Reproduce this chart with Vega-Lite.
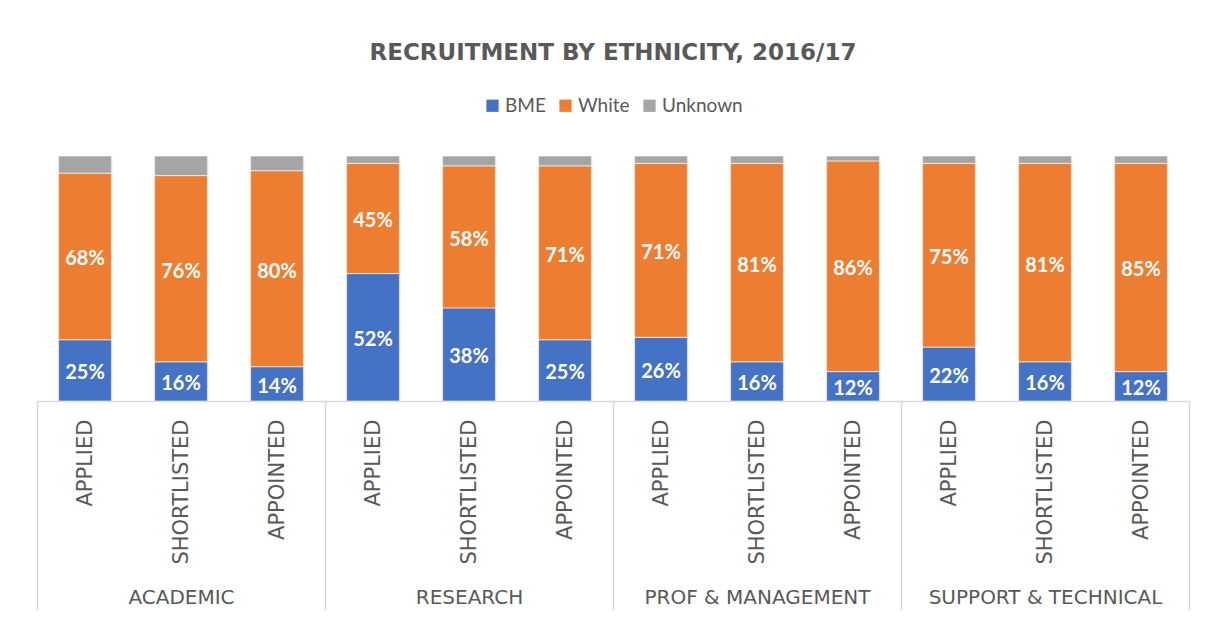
{
  "$schema": "https://vega.github.io/schema/vega-lite/v6.json",
  "autosize": "none",
  "width": 1152,
  "height": 245,
  "padding": {"left": 37, "top": 156, "right": 17, "bottom": 218},
  "background": "white",
  "title": {
    "text": "RECRUITMENT BY ETHNICITY, 2016/17",
    "font": "DejaVu Sans",
    "fontSize": 23,
    "fontWeight": "bold",
    "color": "#595959",
    "anchor": "middle",
    "offset": 31
  },
  "data": {
    "values": [
      {"group": "ACADEMIC", "stage": "APPLIED", "eth": "BME", "v": 25},
      {"group": "ACADEMIC", "stage": "APPLIED", "eth": "White", "v": 68},
      {"group": "ACADEMIC", "stage": "APPLIED", "eth": "Unknown", "v": 7},
      {"group": "ACADEMIC", "stage": "SHORTLISTED", "eth": "BME", "v": 16},
      {"group": "ACADEMIC", "stage": "SHORTLISTED", "eth": "White", "v": 76},
      {"group": "ACADEMIC", "stage": "SHORTLISTED", "eth": "Unknown", "v": 8},
      {"group": "ACADEMIC", "stage": "APPOINTED", "eth": "BME", "v": 14},
      {"group": "ACADEMIC", "stage": "APPOINTED", "eth": "White", "v": 80},
      {"group": "ACADEMIC", "stage": "APPOINTED", "eth": "Unknown", "v": 6},
      {"group": "RESEARCH", "stage": "APPLIED", "eth": "BME", "v": 52},
      {"group": "RESEARCH", "stage": "APPLIED", "eth": "White", "v": 45},
      {"group": "RESEARCH", "stage": "APPLIED", "eth": "Unknown", "v": 3},
      {"group": "RESEARCH", "stage": "SHORTLISTED", "eth": "BME", "v": 38},
      {"group": "RESEARCH", "stage": "SHORTLISTED", "eth": "White", "v": 58},
      {"group": "RESEARCH", "stage": "SHORTLISTED", "eth": "Unknown", "v": 4},
      {"group": "RESEARCH", "stage": "APPOINTED", "eth": "BME", "v": 25},
      {"group": "RESEARCH", "stage": "APPOINTED", "eth": "White", "v": 71},
      {"group": "RESEARCH", "stage": "APPOINTED", "eth": "Unknown", "v": 4},
      {"group": "PROF & MANAGEMENT", "stage": "APPLIED", "eth": "BME", "v": 26},
      {"group": "PROF & MANAGEMENT", "stage": "APPLIED", "eth": "White", "v": 71},
      {"group": "PROF & MANAGEMENT", "stage": "APPLIED", "eth": "Unknown", "v": 3},
      {"group": "PROF & MANAGEMENT", "stage": "SHORTLISTED", "eth": "BME", "v": 16},
      {"group": "PROF & MANAGEMENT", "stage": "SHORTLISTED", "eth": "White", "v": 81},
      {"group": "PROF & MANAGEMENT", "stage": "SHORTLISTED", "eth": "Unknown", "v": 3},
      {"group": "PROF & MANAGEMENT", "stage": "APPOINTED", "eth": "BME", "v": 12},
      {"group": "PROF & MANAGEMENT", "stage": "APPOINTED", "eth": "White", "v": 86},
      {"group": "PROF & MANAGEMENT", "stage": "APPOINTED", "eth": "Unknown", "v": 2},
      {"group": "SUPPORT & TECHNICAL", "stage": "APPLIED", "eth": "BME", "v": 22},
      {"group": "SUPPORT & TECHNICAL", "stage": "APPLIED", "eth": "White", "v": 75},
      {"group": "SUPPORT & TECHNICAL", "stage": "APPLIED", "eth": "Unknown", "v": 3},
      {"group": "SUPPORT & TECHNICAL", "stage": "SHORTLISTED", "eth": "BME", "v": 16},
      {"group": "SUPPORT & TECHNICAL", "stage": "SHORTLISTED", "eth": "White", "v": 81},
      {"group": "SUPPORT & TECHNICAL", "stage": "SHORTLISTED", "eth": "Unknown", "v": 3},
      {"group": "SUPPORT & TECHNICAL", "stage": "APPOINTED", "eth": "BME", "v": 12},
      {"group": "SUPPORT & TECHNICAL", "stage": "APPOINTED", "eth": "White", "v": 85},
      {"group": "SUPPORT & TECHNICAL", "stage": "APPOINTED", "eth": "Unknown", "v": 3}
    ]
  },
  "transform": [
    {"calculate": "datum.group + '|' + datum.stage", "as": "key"},
    {"calculate": "indexof(['BME','White','Unknown'], datum.eth)", "as": "o"},
    {"stack": "v", "groupby": ["key"], "offset": "normalize", "sort": [{"field": "o", "order": "ascending"}], "as": ["y0", "y1"]},
    {"calculate": "(datum.y0 + datum.y1) / 2", "as": "mid"},
    {"calculate": "datum.v + '%'", "as": "lbl"}
  ],
  "layer": [
    {
      "layer": [
        {
          "mark": {"type": "bar", "stroke": "white", "strokeWidth": 0.6},
          "encoding": {
            "x": {
              "field": "key", "type": "nominal", "sort": null,
              "scale": {"paddingInner": 0.45, "paddingOuter": 0.225},
              "axis": {
                "orient": "bottom",
                "title": null,
                "tickBand": "extent",
                "grid": true,
                "gridColor": "#d9d9d9",
                "gridWidth": 1.5,
                "ticks": false,
                "domain": true,
                "domainColor": "#d9d9d9",
                "domainWidth": 1.5,
                "labelExpr": "split(datum.label, '|')[1]",
                "labelAngle": -90,
                "labelAlign": "right",
                "labelBaseline": "middle",
                "labelPadding": 18,
                "labelFont": "DejaVu Sans",
                "labelFontSize": 21,
                "labelLimit": 300,
                "labelColor": "#595959"
              }
            },
            "y": {"field": "y0", "type": "quantitative", "scale": {"domain": [0, 1]}, "axis": null},
            "y2": {"field": "y1"},
            "color": {
              "field": "eth", "type": "nominal",
              "scale": {"domain": ["BME", "White", "Unknown"], "range": ["#4472C4", "#ED7D31", "#A5A5A5"]},
              "legend": {
                "title": null,
                "orient": "none",
                "direction": "horizontal",
                "legendX": 446,
                "legendY": -60,
                "symbolType": "square",
                "symbolSize": 150,
                "symbolStrokeWidth": 0,
                "labelFont": "Lato",
                "labelFontSize": 19,
                "labelColor": "#595959",
                "labelOffset": 3,
                "columnPadding": 10
              }
            }
          }
        },
        {
          "transform": [{"filter": "datum.eth !== 'Unknown'"}],
          "mark": {"type": "text", "color": "white", "font": "Lato", "fontSize": 20, "fontWeight": "bold", "baseline": "middle", "align": "center", "dy": 3},
          "encoding": {
            "x": {"field": "key", "type": "nominal", "sort": null},
            "y": {"field": "mid", "type": "quantitative"},
            "text": {"field": "lbl"}
          }
        }
      ]
    },
    {
      "mark": {"type": "bar", "opacity": 0},
      "encoding": {
        "x": {
          "field": "group", "type": "nominal", "sort": null,
          "scale": {"paddingInner": 0, "paddingOuter": 0},
          "axis": {
            "orient": "bottom",
            "title": null,
            "tickBand": "extent",
            "grid": false,
            "ticks": true,
            "tickSize": 209,
            "tickColor": "#d9d9d9",
            "tickWidth": 1.5,
            "domain": false,
            "labelAngle": 0,
            "labelAlign": "center",
            "labelBaseline": "top",
            "labelPadding": -23,
            "labelFont": "DejaVu Sans",
            "labelFontSize": 20,
            "labelLimit": 300,
            "labelColor": "#595959"
          }
        }
      }
    }
  ],
  "resolve": {"scale": {"x": "independent"}},
  "config": {"view": {"stroke": null}}
}
